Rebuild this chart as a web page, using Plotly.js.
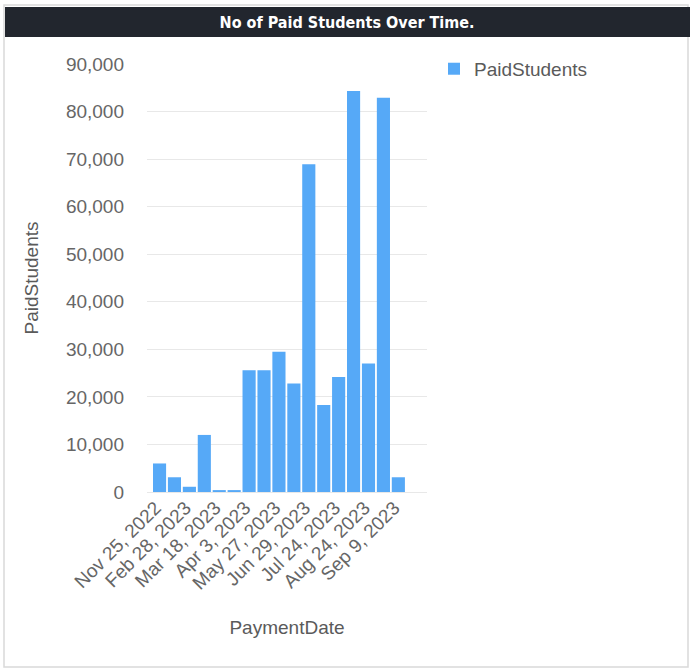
<!DOCTYPE html>
<html>
<head>
<meta charset="utf-8">
<script src="https://cdn.plot.ly/plotly-3.0.1.min.js"></script>
<style>html,body{margin:0;padding:0;background:#fff;}#chart{width:690px;height:669px;}</style>
</head>
<body>
<div id="chart"></div>
<script>
// Tick labels shown on the axis (every other bar carries a label)
const dateLabels = ["Nov 25, 2022", "Feb 28, 2023", "Mar 18, 2023", "Apr 3, 2023", "May 27, 2023",
                    "Jun 29, 2023", "Jul 24, 2023", "Aug 24, 2023", "Sep 9, 2023"];
// PaidStudents per payment date (17 bars, in order)
const paidStudents = [6000, 3100, 1100, 12000, 400, 400, 25600, 25600, 29500, 22800,
                      68900, 18300, 24200, 84300, 27000, 82900, 3100];

const xIdx = paidStudents.map((_, i) => i);
const tickVals = dateLabels.map((_, i) => i * 2);

const trace = {
  type: 'bar',
  name: 'PaidStudents',
  x: xIdx,
  y: paidStudents,
  marker: {color: '#56a9f7'},
  showlegend: true,
  hovertemplate: '%{y:,}<extra></extra>'
};

const layout = {
  width: 690, height: 669,
  margin: {l: 147, r: 263, t: 64, b: 177, pad: 0},
  paper_bgcolor: '#ffffff', plot_bgcolor: '#ffffff',
  font: {family: 'Liberation Sans, Arial, sans-serif', color: '#666666'},
  bargap: 0.12,
  title: {
    text: '<b>No of Paid Students Over Time.</b>',
    font: {family: 'DejaVu Sans Condensed, DejaVu Sans, sans-serif', size: 16, color: '#ffffff'},
    x: 0.503, xref: 'container', xanchor: 'center',
    y: 1 - 22/669, yref: 'container', yanchor: 'middle'
  },
  xaxis: {
    range: [-0.84, 17.92],
    tickmode: 'array', tickvals: tickVals, ticktext: dateLabels,
    tickangle: -45, ticks: '', showgrid: false, zeroline: false, showline: false,
    tickfont: {size: 19, color: '#666666'},
    ticklabelstandoff: 0,
    ticklabelshift: -4,
    title: {text: 'PaymentDate', font: {size: 19, color: '#5a5a5a'}, standoff: 28}
  },
  yaxis: {
    range: [0, 90000], dtick: 10000, tickformat: ',',
    ticks: '', showline: false,
    gridcolor: '#e8e8e8', gridwidth: 1, zeroline: true, zerolinecolor: '#e8e8e8', zerolinewidth: 1,
    tickfont: {size: 19, color: '#666666'},
    ticklabelstandoff: 22,
    title: {text: 'PaidStudents', font: {size: 19, color: '#5a5a5a'}, standoff: 22}
  },
  legend: {
    x: 1.025, xanchor: 'left', y: 1.033, yanchor: 'top',
    font: {size: 19, color: '#5a5a5a'},
    bgcolor: 'rgba(0,0,0,0)', itemsizing: 'constant'
  },
  shapes: [
    {type: 'rect', xref: 'paper', yref: 'paper', layer: 'below',
     x0: (4 - 147)/280, x1: (688 - 147)/280, y0: (492 - 667)/428, y1: (492 - 5)/428,
     line: {color: '#d9d9d9', width: 1.5}, fillcolor: 'rgba(0,0,0,0)'},
    {type: 'rect', xref: 'paper', yref: 'paper', layer: 'below',
     x0: (5 - 147)/280, x1: (690 - 147)/280, y0: (492 - 37)/428, y1: (492 - 7)/428,
     line: {width: 0}, fillcolor: '#22262e'}
  ]
};

Plotly.newPlot('chart', [trace], layout, {displayModeBar: false, staticPlot: true});
</script>
</body>
</html>
